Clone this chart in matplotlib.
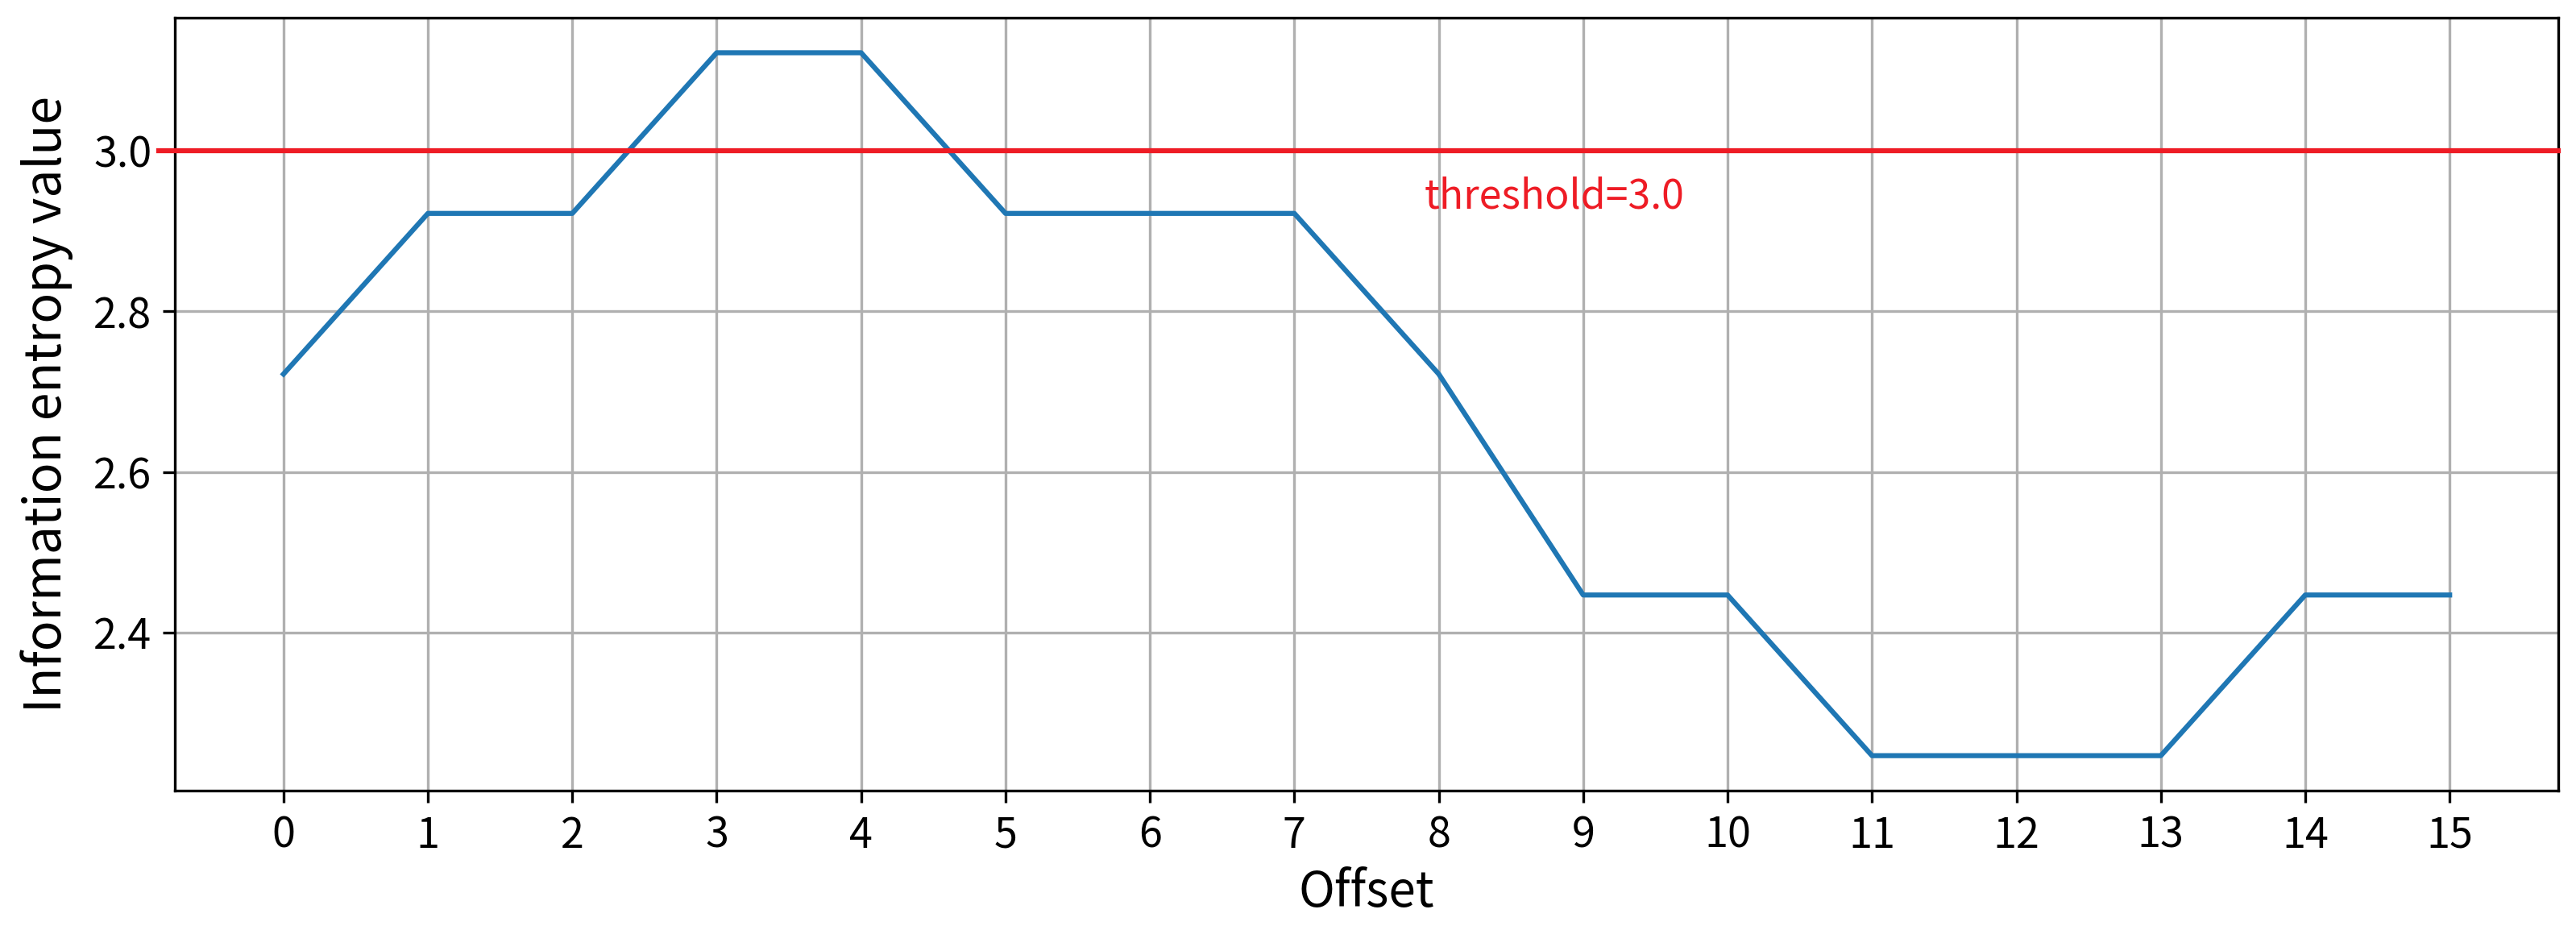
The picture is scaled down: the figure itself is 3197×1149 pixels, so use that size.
import matplotlib
matplotlib.use('Agg')
from matplotlib import pyplot as plt

plt.rcParams['font.family'] = ['Noto Sans CJK SC', 'DejaVu Sans']

# entropy per offset
offsets = list(range(16))
entropy = [2.722, 2.922, 2.922, 3.122, 3.122, 2.922, 2.922, 2.922,
           2.722, 2.447, 2.447, 2.247, 2.247, 2.247, 2.447, 2.447]
threshold = 3.0
y_ticks = [2.4, 2.6, 2.8, 3.0]

fig = plt.figure(figsize=(3197 / 300, 1149 / 300), dpi=300)
ax = fig.add_subplot(111)
fig.subplots_adjust(left=0.068, right=0.993, top=0.981, bottom=0.146)

ax.plot(offsets, entropy, color='#1f77b4', linewidth=1.5)
ax.axhline(threshold, xmin=-0.007, color='#ee1c25', linewidth=1.5, clip_on=False, zorder=5)
ax.text(7.9, threshold - 0.072, 'threshold=%.1f' % threshold, color='#ee1c25',
        fontsize=12, va='baseline', ha='left')

ax.set_xticks(offsets)
ax.set_yticks(y_ticks)
ax.tick_params(labelsize=12.5)
ax.grid(True)
ax.set_xlabel('Offset', fontsize=14.5, labelpad=3)
ax.set_ylabel('Information entropy value', fontsize=15, labelpad=6)

fig.savefig('out.png', dpi=300)
